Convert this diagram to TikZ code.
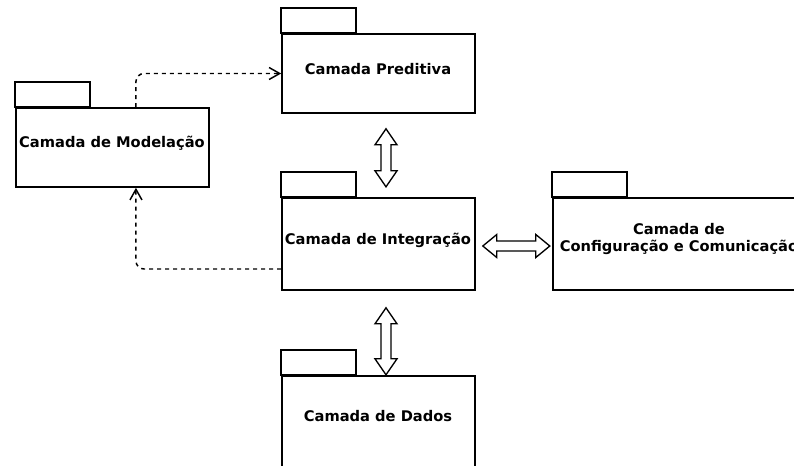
\documentclass[tikz,border=0pt]{standalone}
\usepackage{fontspec}
\setmainfont{DejaVu Sans}
\usetikzlibrary{arrows.meta,calc,fit}
\begin{document}
\begin{tikzpicture}[x=0.75pt,y=-0.75pt,
  pkgbody/.style={draw, line width=1.2pt, inner sep=0pt},
  pkgtab/.style={draw, line width=1.2pt},
  lbl/.style={font=\fontsize{11pt}{12.75pt}\selectfont\bfseries, align=center, inner sep=0pt},
  dep/.style={draw, line width=1.1pt, dash pattern=on 3pt off 3pt, rounded corners=6pt,
    -{Straight Barb[length=8pt,width=9pt]}},
  blk/.style={draw, line width=1pt, line join=miter},
]
\useasboundingbox (0,0) rectangle (794,465);
\clip (0,0) rectangle (794,465);

% package bodies
\node[pkgbody, fit={(282,34) (475,113)}] (pred) {};
\node[pkgbody, fit={(16,108) (209,187)}] (mod) {};
\node[pkgbody, fit={(282,198) (475,290)}] (integ) {};
\node[pkgbody, fit={(553,198) (805,290)}] (conf) {};
\node[pkgbody, fit={(282,376) (475,470)}] (dados) {};

% package tabs
\foreach \p in {pred,mod,integ,conf,dados}
  \draw[pkgtab] (\p.north west) rectangle ++(75,-25);

% labels
\node[lbl] at (378,69.5) {Camada Preditiva};
\node[lbl] at (112,143) {Camada de Modelação};
\node[lbl] at (378,240) {Camada de Integração};
\node[lbl] at (679,239) {Camada de\\Configuração e Comunicação};
\node[lbl] at (378,416.5) {Camada de Dados};

% bidirectional block arrows (head 22 wide, shaft 10 wide)
\draw[blk] ($(pred.south)+(7.5,15)$) -- ++(11,16) -- ++(-6,0) -- ++(0,26)
  -- ++(6,0) -- ++(-11,16) -- ++(-11,-16) -- ++(6,0) -- ++(0,-26) -- ++(-6,0) -- cycle;
\draw[blk] ($(integ.east)+(7,2)$) -- ++(14,-11.5) -- ++(0,6.5) -- ++(39,0)
  -- ++(0,-6.5) -- ++(14,11.5) -- ++(-14,11.5) -- ++(0,-6.5) -- ++(-39,0) -- ++(0,6.5) -- cycle;
\draw[blk] ($(integ.south)+(7.5,17)$) -- ++(11,16) -- ++(-6,0) -- ++(0,35)
  -- ++(6,0) -- ++(-11,16) -- ++(-11,-16) -- ++(6,0) -- ++(0,-35) -- ++(-6,0) -- cycle;

% dependencies
\draw[dep] ([xshift=17.6pt]mod.north) |- (pred.west);
\draw[dep] ([yshift=-18.75pt]integ.west) -| ([xshift=17.6pt]mod.south);
\end{tikzpicture}
\end{document}
